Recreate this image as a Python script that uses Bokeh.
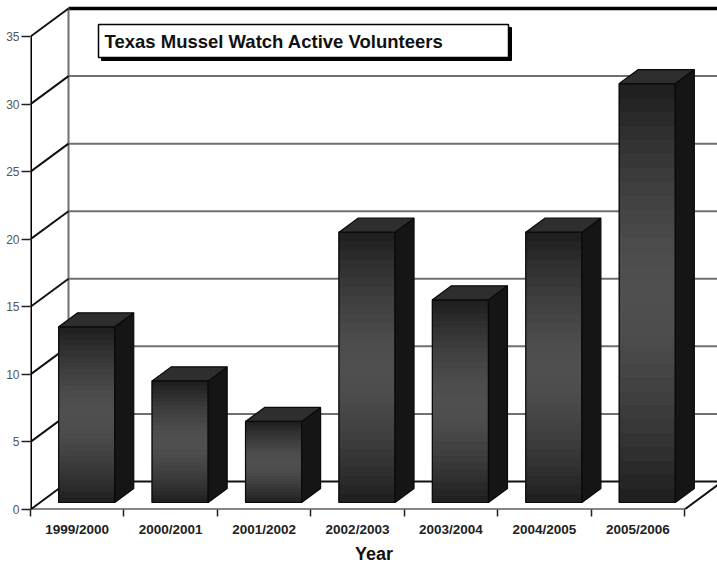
import numpy as np
from bokeh.plotting import figure
from bokeh.models import Range1d, FixedTicker
from bokeh.core.properties import value
from bokeh.embed import file_html
from bokeh.resources import INLINE

# ---- data ----
years = ["1999/2000", "2000/2001", "2001/2002", "2002/2003", "2003/2004", "2004/2005", "2005/2006"]
volunteers = [13, 9, 6, 20, 15, 20, 31]
y_ticks = [0, 5, 10, 15, 20, 25, 30, 35]
title_text = "Texas Mussel Watch Active Volunteers"
x_title = "Year"

# ---- geometry (pixels -> data) ----
W, H = 717, 567
LEFT_B, BOTTOM_B = 30, 58
PX_X = 93.43          # px per category
PX_Y = 13.514         # px per value unit
x_max = (W - LEFT_B) / PX_X
y_max = (H - BOTTOM_B) / PX_Y
DX = 38 / PX_X        # depth offset in x
DY = 28 / PX_Y        # depth offset in y
n = len(years)
y_top = y_ticks[-1]

p = figure(width=W, height=H, output_backend="svg", toolbar_location=None,
           x_range=Range1d(0, x_max), y_range=Range1d(0, y_max),
           min_border_left=LEFT_B, min_border_bottom=BOTTOM_B,
           min_border_top=0, min_border_right=0)
p.outline_line_color = None
p.grid.visible = False
p.background_fill_color = "white"

# back wall gridlines
for v in y_ticks:
    if v == y_top:
        p.segment(x0=[DX], y0=[v + DY], x1=[n + DX + 1], y1=[v + DY], line_color="black", line_width=3.5)
    elif v == 0:
        p.segment(x0=[DX], y0=[v + DY], x1=[n + DX], y1=[v + DY], line_color="#111111", line_width=2)
    else:
        p.segment(x0=[DX], y0=[v + DY], x1=[n + DX + 1], y1=[v + DY], line_color="#707070", line_width=2)
# back wall left edge
p.segment(x0=[DX], y0=[DY], x1=[DX], y1=[y_top + DY], line_color="#707070", line_width=2)
# left side wall diagonals
p.segment(x0=[0] * len(y_ticks), y0=y_ticks, x1=[DX] * len(y_ticks),
          y1=[v + DY for v in y_ticks], line_color="#111111", line_width=2)
# front vertical axis line
p.segment(x0=[0], y0=[0], x1=[0], y1=[y_top], line_color="black", line_width=3)
# floor edges
p.segment(x0=[0, n], y0=[0, 0], x1=[n, n + DX], y1=[0, DY], line_color="#111111", line_width=2)

# ---- bars ----
BW = 0.6
F, B = 0.25, 0.75
NS = 30
ql, qr, qb, qt, qc = [], [], [], [], []
sx, sy, tx, ty, ox, oy = [], [], [], [], [], []
for i, v in enumerate(volunteers):
    c = i + 0.5
    L = c - BW / 2 + F * DX
    R = c + BW / 2 + F * DX
    y0 = F * DY
    y1 = v + F * DY
    for k in range(NS):
        t = (k + 0.5) / NS
        w = 1 - abs(2 * t - 1) ** 1.6
        g = int(30 + (80 - 30) * w)
        ql.append(L); qr.append(R)
        qb.append(y0 + (y1 - y0) * k / NS)
        qt.append(y0 + (y1 - y0) * (k + 1) / NS)
        qc.append("#%02x%02x%02x" % (g, g, g))
    ox.append([L, R, R, L]); oy.append([y0, y0, y1, y1])
    # side face
    sx.append([R, R + (B - F) * DX, R + (B - F) * DX, R])
    sy.append([y0, y0 + (B - F) * DY, y1 + (B - F) * DY, y1])
    # top face
    tx.append([L, R, R + (B - F) * DX, L + (B - F) * DX])
    ty.append([y1, y1, y1 + (B - F) * DY, y1 + (B - F) * DY])

p.quad(left=ql, right=qr, bottom=qb, top=qt, fill_color=qc, line_color=qc, line_width=1.2)
p.patches(xs=ox, ys=oy, fill_color=None, line_color="#0a0a0a", line_width=1.2)
p.patches(xs=sx, ys=sy, fill_color="#151515", line_color="#0a0a0a", line_width=1.2)
p.patches(xs=tx, ys=ty, fill_color="#2e2e2e", line_color="#0a0a0a", line_width=1.2)

# ---- title box ----
def dx_(px):
    return (px - LEFT_B) / PX_X

def dy_(py):
    return (H - BOTTOM_B - py) / PX_Y

bl, br, bt, bb = 98, 508, 24, 57
p.quad(left=[dx_(bl + 3)], right=[dx_(br + 3)], top=[dy_(bt + 3)], bottom=[dy_(bb + 3)],
       fill_color="black", line_color="black")
p.quad(left=[dx_(bl)], right=[dx_(br)], top=[dy_(bt)], bottom=[dy_(bb)],
       fill_color="white", line_color="black", line_width=1.5)
p.text(x=[dx_(104)], y=[dy_(41)], text=[title_text], text_font=value("Liberation Sans"),
       text_font_style="bold", text_font_size="18.5px", text_color="#111111",
       text_baseline="middle", text_align="left")

# ---- axes ----
ya = p.yaxis[0]
ya.ticker = FixedTicker(ticks=y_ticks)
ya.axis_line_color = None
ya.major_tick_out = 9
ya.major_tick_in = 0
ya.minor_tick_out = 0
ya.minor_tick_in = 0
ya.major_tick_line_width = 1.5
ya.major_tick_line_color = "#222222"
ya.major_label_standoff = 2
ya.major_label_text_font = "Liberation Sans"
ya.major_label_text_font_size = "12px"
ya.major_label_text_color = "#555555"

xa = p.xaxis[0]
centers = [i + 0.5 for i in range(n)]
xa.ticker = FixedTicker(ticks=centers, minor_ticks=list(range(n + 1)))
xa.major_label_overrides = {c: y for c, y in zip(centers, years)}
xa.axis_line_color = None
xa.major_tick_out = 0
xa.major_tick_in = 0
xa.minor_tick_out = 7
xa.minor_tick_in = 0
xa.minor_tick_line_width = 1.5
xa.minor_tick_line_color = "#222222"
xa.major_label_standoff = 5
xa.major_label_text_font = "Liberation Sans"
xa.major_label_text_font_style = "bold"
xa.major_label_text_font_size = "13.5px"
xa.major_label_text_color = "#222222"
xa.axis_label = x_title
xa.axis_label_standoff = 4
xa.axis_label_text_font = "Liberation Sans"
xa.axis_label_text_font_style = "bold"
xa.axis_label_text_font_size = "18px"
xa.axis_label_text_color = "#111111"

open("out.html", "w").write(file_html(p, INLINE))
